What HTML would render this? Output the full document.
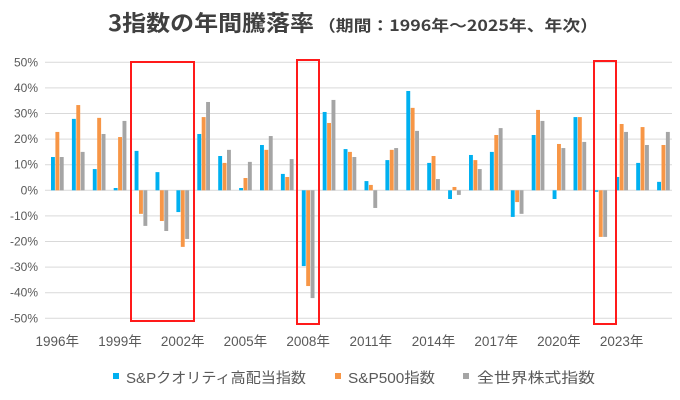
<!DOCTYPE html>
<html><head><meta charset="utf-8"><style>
html,body{margin:0;padding:0;background:#fff;}
svg{display:block;font-family:"Liberation Sans","Noto Sans CJK JP",sans-serif;}
</style></head><body>
<svg id="c" width="680" height="400" viewBox="0 0 680 400" xmlns="http://www.w3.org/2000/svg">
<text x="108" y="31" fill="#404040" font-weight="bold" font-family="'Noto Sans CJK JP',sans-serif"><tspan font-size="22" textLength="206" lengthAdjust="spacingAndGlyphs">3指数の年間騰落率</tspan><tspan font-size="15.5" x="318" textLength="280" lengthAdjust="spacingAndGlyphs">（期間：1996年〜2025年、年次）</tspan></text>
<g id="grid"></g>
<g id="bars"></g>
<g id="xl" font-size="13.5" fill="#595959" text-anchor="middle"></g>
<g id="yl" font-size="12" fill="#595959" text-anchor="end"></g>
<g fill="none" stroke="#ff1a1a" stroke-width="2">
<rect x="131" y="62" width="63" height="259"/>
<rect x="297" y="60" width="22" height="264"/>
<rect x="594" y="61" width="22" height="263"/>
</g>
<g font-size="14.5" fill="#595959">
<rect x="113" y="373" width="6" height="6" fill="#00b0f0"/><text x="126" y="383" textLength="180" lengthAdjust="spacingAndGlyphs">S&amp;Pクオリティ高配当指数</text>
<rect x="335" y="373" width="6" height="6" fill="#f79646"/><text x="348" y="383" textLength="87" lengthAdjust="spacingAndGlyphs">S&amp;P500指数</text>
<rect x="463" y="373" width="6" height="6" fill="#a5a5a5"/><text x="477" y="383" textLength="118" lengthAdjust="spacingAndGlyphs">全世界株式指数</text>
</g>
</svg>
<script>
var ns="http://www.w3.org/2000/svg";
function el(p,t,a,txt){var e=document.createElementNS(ns,t);for(var k in a)e.setAttribute(k,a[k]);if(txt)e.textContent=txt;document.getElementById(p).appendChild(e);}
var z=190.3,u=2.56;
for(var v=-50;v<=50;v+=10){var y=z-v*u;el('grid','line',{x1:45,x2:672,y1:y,y2:y,stroke:'#d9d9d9','stroke-width':1});el('yl','text',{x:38,y:y+4},v+'%');}
var d=[[13,22.8,13],[27.9,33.3,15],[8.3,28.3,22],[0.9,20.8,27.1],[15.4,-9.2,-13.9],[7.1,-12,-15.9],[-8.5,-22.1,-19],[22,28.6,34.5],[13.4,10.7,15.8],[0.9,4.8,11.1],[17.7,15.8,21.2],[6.4,5.2,12.2],[-29.6,-37.4,-42.1],[30.6,26.3,35.3],[16.1,15,13],[3.6,2.1,-6.9],[11.8,15.8,16.5],[38.8,32.2,23.2],[10.7,13.4,4.4],[-3.4,1.3,-1.8],[13.8,11.8,8.3],[15,21.6,24.3],[-10.4,-4.6,-9.2],[21.6,31.4,27.1],[-3.4,18.1,16.5],[28.6,28.6,18.9],[-0.6,-18.2,-18.2],[5.2,25.9,22.8],[10.7,24.7,17.7],[3.3,17.7,22.8]];
var col=['#00b0f0','#f79646','#a5a5a5'];
for(var i=0;i<30;i++){var x0=51+i*20.9;for(var j=0;j<3;j++){var v=d[i][j],h=Math.abs(v)*u,y=v>=0?z-h:z;el('bars','rect',{x:x0+j*4.4,y:y,width:3.9,height:Math.max(h,0.8),fill:col[j]});}
if(i%3==0)el('xl','text',{x:x0+6.3,y:346},(1996+i)+'年');}
</script>
</body></html>
